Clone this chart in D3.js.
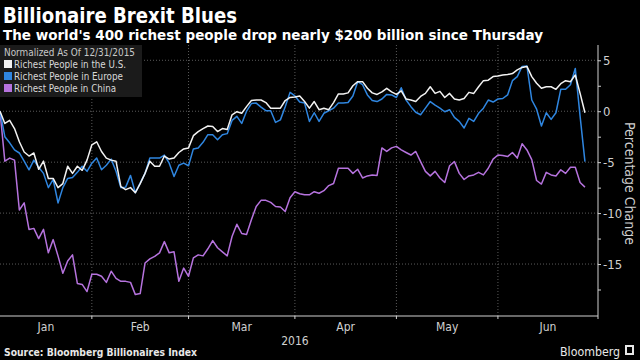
<!DOCTYPE html>
<html><head><meta charset="utf-8">
<script src="https://cdn.jsdelivr.net/npm/d3@7"></script>
<style>
html,body{margin:0;padding:0;background:#000;}
svg{display:block;}
text{font-family:"DejaVu Sans Condensed","DejaVu Sans","Liberation Sans",Arial,sans-serif;font-stretch:condensed;}
.bold{font-family:"DejaVu Sans","Liberation Sans",Arial,sans-serif;font-weight:bold;font-stretch:normal;}
</style></head>
<body><svg id="chart" width="640" height="360"></svg>
<script>
// ---- data (index = trading day since 12/31/2015) ----
const seriesNames = ["Richest People in the U.S.", "Richest People in Europe", "Richest People in China"];
const seriesColors = ["#f2f2f2", "#2f86e0", "#b673de"];
const us = [0,-1.2,-0.9,-1.7,-3.0,-4.0,-4.4,-4.1,-5.7,-4.9,-6.6,-6.6,-7.5,-7.1,-5.4,-6.1,-5.4,-5.8,-4.8,-3.3,
  -3.0,-3.95,-4.6,-4.8,-4.9,-7.4,-7.7,-7.5,-8.0,-7.1,-6.1,-4.9,-5.4,-5.4,-4.4,-4.7,-4.6,-4.05,-3.7,-3.6,
  -2.4,-2.0,-1.7,-1.45,-1.5,-2.0,-1.7,-1.8,-0.35,-0.05,-0.2,0.45,1.05,1.1,1.1,0.85,0.3,0.3,0.3,1.05,
  1.35,1.4,1.5,0.95,0.3,0.95,0.15,0.3,0.15,0.85,1.7,1.7,1.8,2.5,2.9,2.9,2.25,1.8,1.65,1.9,
  2.25,1.9,1.65,2.0,1.2,1.1,0.95,1.45,1.75,2.4,1.75,1.95,1.35,1.75,1.2,1.1,1.25,1.85,1.75,2.4,
  3.0,3.05,3.4,3.45,3.55,3.6,3.7,4.05,4.3,4.4,3.4,2.75,2.25,2.4,2.4,2.15,2.7,3.0,2.9,3.55,
  1.75,-0.15];
const europe = [0,-2.5,-3.1,-3.8,-4.1,-4.9,-5.75,-4.8,-5.5,-6.1,-7.5,-6.7,-9.0,-7.5,-6.6,-6.5,-6.0,-5.4,-5.9,-5.1,
  -4.6,-5.75,-5.3,-4.7,-5.9,-7.5,-7.45,-6.3,-8.0,-7.05,-6.1,-4.6,-4.6,-4.6,-4.3,-5.1,-6.4,-5.3,-5.1,-5.35,
  -3.7,-3.6,-3.05,-2.3,-2.3,-2.8,-2.3,-2.2,-0.9,-0.5,-1.2,0,0.75,0.8,0.4,0.05,0.05,-1.1,-0.85,0.45,
  1.85,1.5,0.9,0.8,-1.0,-0.15,-1.0,-0.2,0.05,0.3,0.8,0.8,0.85,1.5,2.9,2.6,1.6,1.05,0.95,1.2,
  1.65,1.6,1.35,2.3,1.1,0.45,-0.1,-0.35,0.3,0.95,0.6,0.3,-0.05,0.15,-0.6,-1.0,-1.65,-0.7,-1.0,-0.2,
  0.3,1.1,0.9,1.2,1.25,1.6,3.0,3.4,4.4,4.45,1.1,0.2,-1.45,-0.15,-0.8,-0.15,2.15,2.15,2.6,4.2,
  -0.5,-4.95];
const china = [0,-4.9,-4.6,-4.8,-9.7,-9.0,-11.6,-11.5,-12.5,-11.6,-13.9,-12.6,-14.2,-15.9,-14.7,-14.1,-16.9,-17.0,-17.7,-16.0,
  -16.0,-16.2,-16.8,-15.7,-16.4,-16.7,-16.7,-16.8,-18.0,-17.9,-14.9,-14.5,-14.25,-13.9,-12.8,-13.9,-13.8,-16.7,-15.4,-16.2,
  -14.4,-14.1,-14.2,-13.5,-12.7,-13.4,-13.8,-14.2,-12.3,-11.1,-12.0,-12.1,-10.65,-9.35,-8.75,-8.75,-8.95,-9.35,-9.4,-9.85,
  -8.5,-7.9,-8.1,-8.2,-8.2,-7.9,-8.05,-7.8,-7.3,-7.1,-5.6,-5.6,-5.6,-6.1,-5.7,-6.55,-6.35,-6.25,-6.3,-3.6,
  -3.95,-3.6,-3.45,-3.8,-4.05,-4.3,-3.95,-4.95,-5.9,-6.35,-5.9,-6.55,-7.0,-5.35,-4.95,-6.1,-6.7,-6.35,-6.25,-6.0,
  -6.25,-5.6,-4.7,-4.3,-4.35,-4.45,-4.05,-4.6,-3.2,-3.8,-4.75,-6.8,-7.15,-6.0,-6.25,-6.35,-5.75,-6.1,-5.5,-5.5,
  -7.0,-7.45];
const months = ["Jan","Feb","Mar","Apr","May","Jun"];
const monthBounds = [0,19,39,61,82,103,123.7]; // trading-day index of month edges
const yTicks = [5,0,-5,-10,-15];
const yMinorTicks = [5,2.5,0,-2.5,-5,-7.5,-10,-12.5,-15,-17.5];

(function(){
// ---- layout ----
const svg = d3.select("#chart");
svg.append("rect").attr("width",640).attr("height",360).attr("fill","#000");
const pL = 0, pR = 598, pT = 45, pB = 316;
const x = d3.scaleLinear().domain([0, monthBounds[monthBounds.length-1]]).range([pL, pR]);
const y = d3.scaleLinear().domain([-20.1, 6.5]).range([pB, pT]);

// gridlines
const grid = svg.append("g");
grid.selectAll("line.h").data(yTicks).join("line").attr("class","h")
  .attr("x1",pL).attr("x2",pR).attr("y1",d=>y(d)).attr("y2",d=>y(d))
  .attr("stroke","#5a5a5a").attr("stroke-width",1).attr("stroke-dasharray","1,2");
grid.selectAll("line.v").data(monthBounds.slice(1,-1)).join("line").attr("class","v")
  .attr("x1",d=>x(d)).attr("x2",d=>x(d)).attr("y1",pT).attr("y2",pB)
  .attr("stroke","#5a5a5a").attr("stroke-width",1).attr("stroke-dasharray","1,2");

// lines (China first, U.S. on top)
const line = d3.line().x((d,i)=>x(i)).y(d=>y(d));
const all = [us, europe, china];
[2,1,0].forEach(idx=>{
  svg.append("path").datum(all[idx]).attr("d",line).attr("fill","none")
    .attr("stroke",seriesColors[idx]).attr("stroke-width",1.5).attr("stroke-linejoin","round");
});

// right axis
const yAxis = d3.axisRight(y).tickValues(yMinorTicks).tickSize(3)
  .tickFormat(d => yTicks.includes(d) ? String(d) : "");
const ya = svg.append("g").attr("transform",`translate(${pR},0)`).call(yAxis);
ya.attr("font-family",null);
ya.select(".domain").attr("stroke","#d0d0d0").attr("d",`M0,${pT}V${pB}`);
ya.selectAll(".tick line").attr("stroke","#d0d0d0");
ya.selectAll(".tick text").attr("fill","#d0d0d0").attr("font-size",13).attr("x",5);

svg.append("text").attr("transform",`translate(625,${(pT+pB)/2+3}) rotate(90)`)
  .attr("text-anchor","middle").attr("fill","#d0d0d0").attr("font-size",14)
  .text("Percentage Change");

// bottom axis
const xa = svg.append("g");
xa.append("line").attr("x1",pL).attr("x2",pR).attr("y1",pB).attr("y2",pB).attr("stroke","#d0d0d0");
xa.selectAll("line.t").data(monthBounds.slice(1)).join("line").attr("class","t")
  .attr("x1",d=>x(d)).attr("x2",d=>x(d)).attr("y1",pB).attr("y2",pB+3).attr("stroke","#d0d0d0");
xa.selectAll("text.m").data(months).join("text").attr("class","m")
  .attr("x",(d,i)=>x((monthBounds[i]+monthBounds[i+1])/2)).attr("y",331)
  .attr("text-anchor","middle").attr("fill","#d0d0d0").attr("font-size",12).text(d=>d);
svg.append("text").attr("x",x(monthBounds[3])).attr("y",345)
  .attr("text-anchor","middle").attr("fill","#d0d0d0").attr("font-size",12).text("2016");

// legend
const lg = svg.append("g");
lg.append("rect").attr("x",0).attr("y",45).attr("width",142).attr("height",52).attr("fill","#1b1b1b");
lg.append("text").attr("x",4).attr("y",56).attr("fill","#c8c8c8").attr("font-size",10.5)
  .attr("textLength",131).attr("lengthAdjust","spacingAndGlyphs").text("Normalized As Of 12/31/2015");
const legW = [112,109,102];
seriesNames.forEach((n,i)=>{
  const by = 68 + i*12;
  lg.append("rect").attr("x",4).attr("y",by-8).attr("width",8).attr("height",8).attr("fill",seriesColors[i]);
  lg.append("text").attr("x",14).attr("y",by).attr("fill","#d8d8d8").attr("font-size",10.5)
    .attr("textLength",legW[i]).attr("lengthAdjust","spacingAndGlyphs").text(n);
});

// titles
svg.append("text").attr("class","bold").attr("x",3).attr("y",23).attr("fill","#fff").attr("font-size",21)
  .attr("textLength",234).attr("lengthAdjust","spacingAndGlyphs").text("Billionaire Brexit Blues");
svg.append("text").attr("class","bold").attr("x",3).attr("y",40).attr("fill","#fff").attr("font-size",14)
  .attr("textLength",540).attr("lengthAdjust","spacingAndGlyphs")
  .text("The world's 400 richest people drop nearly $200 billion since Thursday");

// footer
svg.append("text").attr("class","bold").attr("x",4).attr("y",356).attr("fill","#e8e8e8").attr("font-size",10)
  .attr("textLength",193).attr("lengthAdjust","spacingAndGlyphs").text("Source: Bloomberg Billionaires Index");
svg.append("text").attr("x",560).attr("y",356).attr("fill","#e8e8e8").attr("font-size",13)
  .attr("textLength",60).attr("lengthAdjust","spacingAndGlyphs").text("Bloomberg");
svg.append("rect").attr("x",625).attr("y",345).attr("width",9).attr("height",10).attr("fill","#e8e8e8");
svg.append("rect").attr("x",627).attr("y",347).attr("width",5).attr("height",6).attr("fill","#000");
})();
</script></body></html>
